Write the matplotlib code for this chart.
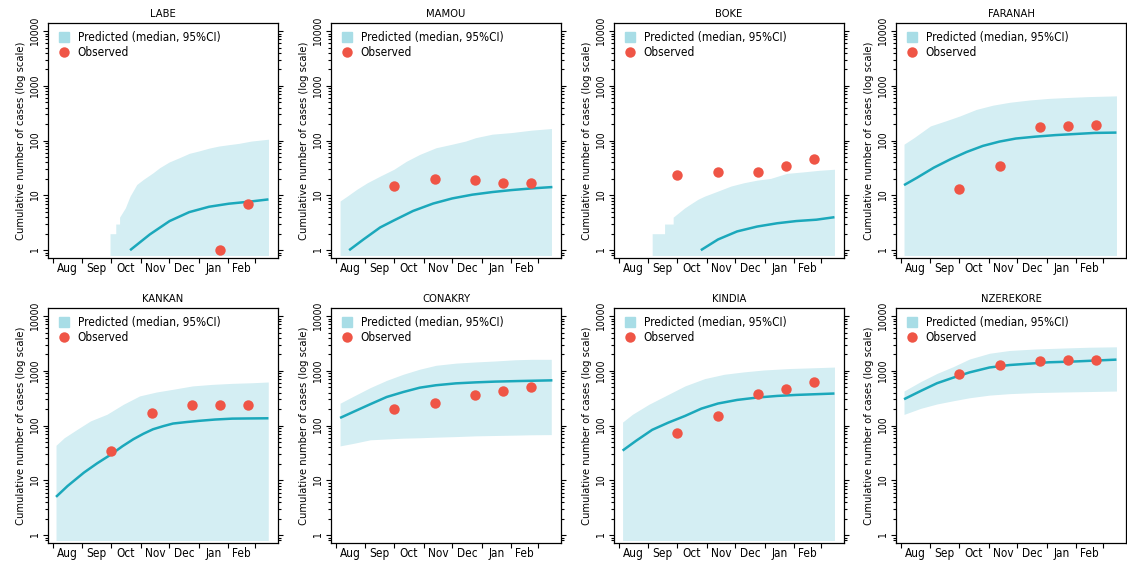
import matplotlib
matplotlib.use("Agg")
import matplotlib.pyplot as plt
from matplotlib.lines import Line2D
from matplotlib.ticker import LogLocator, FixedLocator, NullFormatter, FuncFormatter

# narrow look of the original: DejaVu Sans in its condensed cut
plt.rcParams['font.family'] = ['DejaVu Sans']
plt.rcParams['font.stretch'] = 'condensed'

# days counted from 1 Aug 2014
month_starts = [0, 31, 61, 92, 122, 153, 184, 212]
month_mids = [15.5, 46, 76.5, 107, 137.5, 168.5, 198]
month_labels = ["Aug", "Sep", "Oct", "Nov", "Dec", "Jan", "Feb"]
obs_days = [61, 104, 146, 175, 205]

# LABE
labe_band_days = [60, 66, 66, 70, 70, 76, 81, 88, 95, 105, 112, 122, 133, 143, 153, 164, 174, 184, 195, 208, 226]
labe_hi = [2, 2, 3, 3, 4, 5.9, 9.7, 15.8, 19.6, 25.8, 32, 40.7, 49, 58.5, 64.6, 73, 79.5, 84, 89, 98, 106]
labe_lo = 0.8
labe_med_days = [81, 101.7, 122.4, 143, 163.7, 184.4, 205, 226]
labe_med = [1.0, 1.94, 3.4, 4.95, 6.2, 7.05, 7.65, 8.45]
labe_obs_days = [175, 205]
labe_obs = [1, 7]

# MAMOU
mamou_band_days = [4.5, 12, 22, 33, 46.5, 61, 74, 88, 105, 122, 136, 146.5, 164, 184, 205, 226]
mamou_hi = [7.9, 9.7, 12.9, 17, 22.5, 30, 42, 56, 74, 86, 98, 113, 131, 140, 155, 166]
mamou_lo = 0.8
mamou_med_days = [14, 29, 46.5, 61, 81, 102, 122, 143, 164, 184, 205, 227]
mamou_med = [1.0, 1.57, 2.6, 3.5, 5.2, 7.1, 8.8, 10.3, 11.5, 12.5, 13.4, 14.2]
mamou_obs = [15, 20, 19, 17, 17]

# BOKE
boke_band_days = [35, 48, 48, 57, 57, 69, 76, 83, 90, 104, 117.5, 131, 145, 159, 176, 193, 210, 226]
boke_hi = [2, 2, 3, 3, 4, 5.9, 7.1, 8.5, 9.7, 12, 14.8, 17, 19, 20.4, 25.2, 26.8, 28.7, 30]
boke_lo = 0.8
boke_med_days = [86, 104, 124, 145, 166, 186, 207, 226]
boke_med = [1.0, 1.57, 2.2, 2.7, 3.1, 3.4, 3.6, 4.0]
boke_obs = [24, 27, 27, 34, 47]

# FARANAH
faranah_band_days = [3.4, 13.8, 31, 48, 62, 79, 96.5, 114, 134.5, 155, 176, 196.5, 226]
faranah_hi = [86, 113, 185, 232, 282, 370, 443, 500, 550, 589, 613, 635, 655]
faranah_lo = 0.8
faranah_med_days = [3.4, 17, 34.5, 52, 69, 86, 103.5, 120.5, 141, 162, 183, 203, 226]
faranah_med = [15.4, 21, 32, 45.6, 62, 80, 96, 109, 118, 126, 132, 138, 140]
faranah_obs = [13, 34, 175, 185, 190]

# KANKAN
kankan_band_days = [3.4, 12, 25.8, 39.6, 56.8, 74, 91, 108.6, 126, 146.5, 167, 188, 208.5, 225.8]
kankan_hi = [43.7, 60, 86, 122, 161, 245, 348, 410, 460, 530, 565, 590, 605, 625]
kankan_lo = 0.8
kankan_med_days = [3.4, 15.5, 32.7, 46.5, 61.4, 73, 84.5, 95, 105, 116, 126, 140, 153, 170, 188, 205, 226]
kankan_med = [5.0, 7.9, 13.9, 20.5, 30, 42, 56.5, 71, 85.7, 98, 109, 116, 122, 129, 134, 135, 136]
kankan_obs = [34, 168, 238, 241, 241]

# CONAKRY
conakry_band_days = [4.5, 19, 36, 53.4, 70.7, 88, 105, 125.8, 146.5, 167, 188, 205, 225.8]
conakry_hi = [256, 347, 492, 670, 865, 1070, 1260, 1380, 1450, 1510, 1590, 1620, 1620]
conakry_lo = [42.6, 47.6, 55, 57, 59, 60, 61.5, 63, 65, 66, 67, 68, 68.5]
conakry_med_days = [4.5, 19, 36, 53.4, 70.7, 88, 105, 125.8, 146.5, 167, 191, 227]
conakry_med = [138, 180, 245, 333, 410, 492, 545, 590, 615, 635, 650, 670]
conakry_obs = [204, 259, 362, 433, 500]

# KINDIA
kindia_band_days = [4, 14.4, 31.6, 48.8, 69.4, 90, 110.6, 131, 152, 179, 207, 226]
kindia_hi = [116, 161, 245, 348, 530, 720, 865, 955, 1035, 1100, 1140, 1170]
kindia_lo = 0.8
kindia_med_days = [4, 18, 35, 52, 69.4, 86.5, 104, 124, 145, 166, 186, 226]
kindia_med = [35, 52.6, 83.7, 113.5, 150, 204, 253, 294, 325, 348, 363, 385]
kindia_obs = [74.5, 150, 373, 473, 626]

# NZEREKORE
nzerekore_band_days = [3.4, 20.7, 37.9, 55, 72, 93, 114, 141, 169, 196.5, 226]
nzerekore_hi = [427, 633, 895, 1190, 1640, 2090, 2350, 2500, 2600, 2690, 2740]
nzerekore_lo = [160, 206, 248, 284, 322, 360, 383, 400, 410, 418, 427]
nzerekore_med_days = [3.4, 20.7, 37.9, 55, 72, 93, 114, 134.5, 155, 182.6, 226]
nzerekore_med = [303, 427, 593, 750, 935, 1150, 1275, 1350, 1430, 1480, 1600]
nzerekore_obs = [880, 1300, 1500, 1560, 1570]

panels = [
    ("LABE", labe_band_days, labe_hi, labe_lo, labe_med_days, labe_med, labe_obs_days, labe_obs),
    ("MAMOU", mamou_band_days, mamou_hi, mamou_lo, mamou_med_days, mamou_med, obs_days, mamou_obs),
    ("BOKE", boke_band_days, boke_hi, boke_lo, boke_med_days, boke_med, obs_days, boke_obs),
    ("FARANAH", faranah_band_days, faranah_hi, faranah_lo, faranah_med_days, faranah_med, obs_days, faranah_obs),
    ("KANKAN", kankan_band_days, kankan_hi, kankan_lo, kankan_med_days, kankan_med, obs_days, kankan_obs),
    ("CONAKRY", conakry_band_days, conakry_hi, conakry_lo, conakry_med_days, conakry_med, obs_days, conakry_obs),
    ("KINDIA", kindia_band_days, kindia_hi, kindia_lo, kindia_med_days, kindia_med, obs_days, kindia_obs),
    ("NZEREKORE", nzerekore_band_days, nzerekore_hi, nzerekore_lo, nzerekore_med_days, nzerekore_med, obs_days, nzerekore_obs),
]

band_col = "#d4eef3"
legend_col = "#a8dde6"
line_col = "#1ba8bb"
dot_col = "#ef5546"

W, H = 1127, 563
fig = plt.figure(figsize=(W / 100, H / 100), dpi=100)

lefts = [48, 331, 614, 896]
tops = [23, 308]
box_w, box_h = 230, 235

for i, (name, bd, hi, lo, md, med, od, obs) in enumerate(panels):
    row, col = divmod(i, 4)
    ax = fig.add_axes([lefts[col] / W, (H - tops[row] - box_h) / H, box_w / W, box_h / H])
    ax.set_yscale("log")
    ax.fill_between(bd, lo, hi, color=band_col, linewidth=0, zorder=1)
    ax.plot(md, med, color=line_col, lw=1.8, zorder=2, solid_capstyle="butt")
    ax.plot(od, obs, "o", color=dot_col, ms=7.5, mec="none", zorder=3)
    ax.set_xlim(-5, 236)
    ax.set_ylim(0.72, 14000)

    ax.xaxis.set_major_locator(FixedLocator(month_starts))
    ax.xaxis.set_major_formatter(NullFormatter())
    ax.xaxis.set_minor_locator(FixedLocator(month_mids))
    ax.set_xticklabels(month_labels, minor=True)
    ax.tick_params(axis="x", which="major", direction="out", length=3.5, width=0.8)
    ax.tick_params(axis="x", which="minor", length=0, labelsize=8.5, pad=3)

    ax.yaxis.set_major_locator(LogLocator(base=10, numticks=10))
    ax.yaxis.set_minor_locator(LogLocator(base=10, subs=range(2, 10), numticks=10))
    ax.yaxis.set_minor_formatter(NullFormatter())
    ax.yaxis.set_major_formatter(FuncFormatter(lambda v, p: f"{v:.0f}"))
    ax.tick_params(axis="y", which="both", direction="out", left=True, right=True, width=0.8)
    ax.tick_params(axis="y", which="major", length=3.5, labelsize=7.5, pad=2)
    ax.tick_params(axis="y", which="minor", length=2.5)
    for lab in ax.get_yticklabels():
        lab.set_rotation(90)
        lab.set_va("center")

    for sp in ax.spines.values():
        sp.set_linewidth(0.9)

    ax.set_title(name, fontsize=8, pad=4)
    ax.set_ylabel("Cumulative number of cases (log scale)", fontsize=8, labelpad=3)

    handles = [
        Line2D([], [], marker="s", ls="none", color=legend_col, ms=7),
        Line2D([], [], marker="o", ls="none", color=dot_col, ms=7.5, mec="none"),
    ]
    ax.legend(handles, ["Predicted (median, 95%CI)", "Observed"], loc="upper left",
              frameon=False, fontsize=8.5, handletextpad=0.5, labelspacing=0.15,
              borderaxespad=0.4, handlelength=1.3, borderpad=0.3)

fig.savefig("out.png", dpi=100)
